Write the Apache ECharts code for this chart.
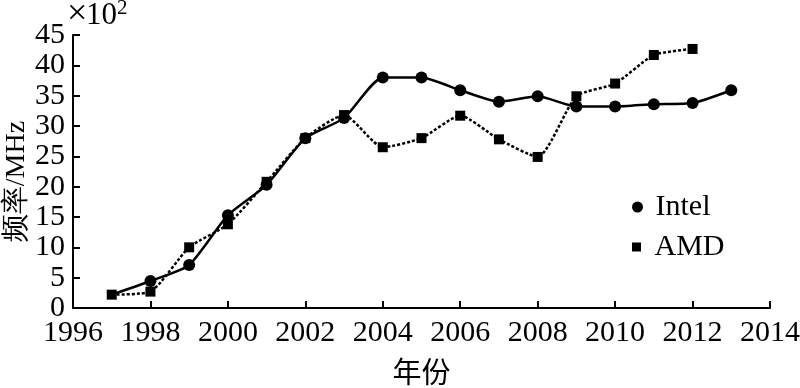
<!DOCTYPE html>
<html>
<head>
<meta charset="utf-8">
<script src="https://cdn.jsdelivr.net/npm/echarts@6/dist/echarts.min.js"></script>
<style>html,body{margin:0;padding:0;background:#fff;}#c{width:800px;height:388px;}</style>
</head>
<body>
<div id="c"></div>
<script>
var intelYears = [1997, 1998, 1999, 2000, 2001, 2002, 2003, 2004, 2005, 2006, 2007, 2008, 2009, 2010, 2011, 2012, 2013];
var intelValues = [2.2, 4.45, 7.1, 15.3, 20.3, 28.0, 31.3, 38.0, 38.0, 35.9, 34.0, 34.9, 33.2, 33.2, 33.6, 33.8, 35.9];
var amdYears = [1997, 1998, 1999, 2000, 2001, 2002, 2003, 2004, 2005, 2006, 2007, 2008, 2009, 2010, 2011, 2012];
var amdValues = [2.2, 2.7, 10.0, 13.8, 20.8, 28.0, 31.8, 26.5, 28.0, 31.7, 27.8, 24.9, 34.9, 37.0, 41.7, 42.7];
var seriesNames = ['Intel', 'AMD'];
var xAxisTitle = '年份';
var yAxisTitle = '频率/MHz';

var FONT = '"Liberation Serif", "Times New Roman", serif';
var CJK = '"Noto Sans CJK SC", sans-serif';

var intelData = intelYears.map(function (y, i) {
  var d = { value: [y, intelValues[i]] };
  if (i === 0) d.symbol = 'none';
  return d;
});
var amdData = amdYears.map(function (y, i) { return [y, amdValues[i]]; });

var chart = echarts.init(document.getElementById('c'), null, { renderer: 'canvas' });
chart.setOption({
  animation: false,
  backgroundColor: '#fff',
  grid: { left: 73, right: 30, top: 35, bottom: 80, containLabel: false, outerBoundsMode: 'none' },
  xAxis: {
    type: 'value', min: 1996, max: 2014, interval: 2,
    name: xAxisTitle, nameLocation: 'middle', nameGap: 49, nameMoveOverlap: false,
    nameTextStyle: { fontFamily: CJK, fontSize: 29, color: '#000' },
    axisLine: { lineStyle: { color: '#000', width: 2 } },
    axisTick: { inside: true, length: 7, lineStyle: { color: '#000', width: 2 } },
    axisLabel: { fontFamily: FONT, fontSize: 30, color: '#000', margin: 10, hideOverlap: false, formatter: function (v) { return String(v); } },
    splitLine: { show: false }
  },
  yAxis: {
    type: 'value', min: 0, max: 45, interval: 5,
    name: yAxisTitle, nameLocation: 'middle', nameGap: 42, nameRotate: 90, nameMoveOverlap: false,
    nameTextStyle: { fontFamily: FONT, fontSize: 28, color: '#000', padding: [0, 20, 0, 0] },
    axisLine: { show: true, lineStyle: { color: '#000', width: 2 } },
    axisTick: { show: true, inside: true, length: 7, lineStyle: { color: '#000', width: 2 } },
    axisLabel: { fontFamily: FONT, fontSize: 30, color: '#000', margin: 8 },
    splitLine: { show: false }
  },
  legend: [
    { data: [{ name: seriesNames[0], icon: 'circle' }], left: 632, top: 192, padding: 0,
      itemWidth: 26, itemHeight: 11, textStyle: { fontFamily: FONT, fontSize: 30, color: '#000' } },
    { data: [{ name: seriesNames[1], icon: 'path://M0,0H1V1H0Z' }], left: 632, top: 232, padding: 0,
      itemWidth: 26, itemHeight: 9, textStyle: { fontFamily: FONT, fontSize: 30, color: '#000' } }
  ],
  graphic: [
    { type: 'text', left: 67, top: -3, style: { text: '×', font: '36px ' + FONT, fill: '#000' } },
    { type: 'text', left: 86, top: 0, style: { text: '10', font: '31px ' + FONT, fill: '#000' } },
    { type: 'text', left: 117, top: -2, style: { text: '2', font: '21px ' + FONT, fill: '#000' } }
  ],
  series: [
    {
      name: seriesNames[0], type: 'line', data: intelData, smooth: 0.2,
      symbol: 'circle', symbolSize: 12, showAllSymbol: true,
      lineStyle: { color: '#000', width: 2.5 }, itemStyle: { color: '#000' }
    },
    {
      name: seriesNames[1], type: 'line', data: amdData, smooth: 0.2,
      symbol: 'rect', symbolSize: 10, showAllSymbol: true,
      lineStyle: { color: '#000', width: 2.5, type: [3, 2] }, itemStyle: { color: '#000' }
    }
  ]
});
</script>
</body>
</html>
